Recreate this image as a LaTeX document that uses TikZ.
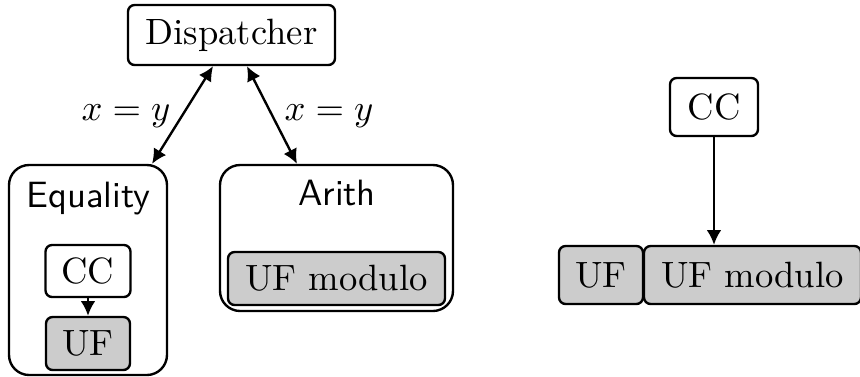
\documentclass[tikz,border=0pt]{standalone}
\usepackage{fontspec}
\usetikzlibrary{arrows.meta}
\begin{document}
\begin{tikzpicture}[x=0.2732pt,y=-0.2732pt,
  line width=0.65pt,
  tip/.style={-{Latex[length=4pt,width=4pt]}},
  dtip/.style={{Latex[length=4pt,width=4pt]}-{Latex[length=4pt,width=4pt]}},
  sbox/.style={draw, rounded corners=1.8pt, inner sep=0pt, font=\normalsize},
  gbox/.style={sbox, fill=black!20},
  bigbox/.style={draw, rounded corners=5.5pt, inner sep=0pt}]
\useasboundingbox (0,0) rectangle (860,376);
% left part
\node[sbox, minimum width=207*0.2732pt, minimum height=60*0.2732pt] (disp) at (231.5,35) {Dispatcher};
\node[bigbox, minimum width=158*0.2732pt, minimum height=210*0.2732pt] (eq) at (88,270) {};
\node[anchor=base, font=\sffamily, inner sep=0pt] (eqlab) at (88.5,207) {Equality};
\node[sbox, minimum width=85*0.2732pt, minimum height=52*0.2732pt] (cc1) at (88,271) {CC};
\node[gbox, minimum width=84*0.2732pt, minimum height=53*0.2732pt] (uf1) at (88,343.5) {UF};
\node[bigbox, minimum width=233*0.2732pt, minimum height=146*0.2732pt] (ar) at (336.5,238) {};
\node[anchor=base, font=\sffamily, inner sep=0pt] (arlab) at (337,205) {Arith};
\node[gbox, minimum width=217*0.2732pt, minimum height=53*0.2732pt] (ufm1) at (336.5,278.5) {UF modulo};
\draw[dtip] ([xshift=-5.05pt]disp.south) -- ([xshift=17.5pt]eq.north);
\draw[dtip] ([xshift=4.23pt]disp.south) -- ([xshift=-10.8pt]ar.north);
\node[anchor=base, inner sep=0pt] (l1) at (126,120) {$x=y$};
\node[anchor=base, inner sep=0pt] (l2) at (329,120) {$x=y$};
\draw[tip] (cc1) -- (uf1);
% right part
\node[sbox, minimum width=88*0.2732pt, minimum height=58*0.2732pt] (cc2) at (714,107) {CC};
\node[gbox, minimum width=84*0.2732pt, minimum height=58*0.2732pt] (uf2) at (601,275) {UF};
\node[gbox, minimum width=217*0.2732pt, minimum height=58*0.2732pt] (ufm2) at (752.5,275) {UF modulo};
\draw[tip] (cc2.south) -- (cc2.south |- ufm2.north);
\end{tikzpicture}
\end{document}
